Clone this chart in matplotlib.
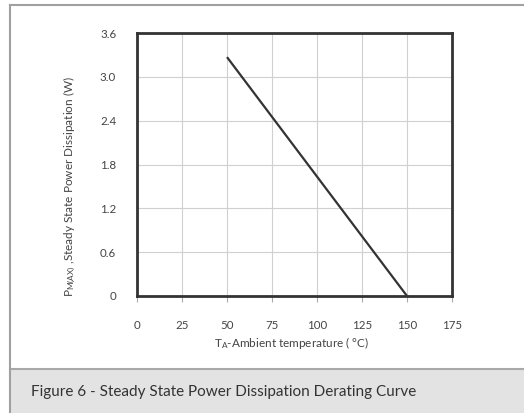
import matplotlib
matplotlib.use("Agg")
import matplotlib.pyplot as plt
from matplotlib.patches import Rectangle
from matplotlib.lines import Line2D

# Data
temperature = [50, 150]
power = [3.27, 0.0]
x_ticks = [0, 25, 50, 75, 100, 125, 150, 175]
y_ticks = [0, 0.6, 1.2, 1.8, 2.4, 3.0, 3.6]
y_tick_labels = ["0", "0.6", "1.2", "1.8", "2.4", "3.0", "3.6"]
caption = "Figure 6 - Steady State Power Dissipation Derating Curve"
xlabel = r"T$_{A}$-Ambient temperature ( °C)"
ylabel = r"P$_{M(AX)}$ ,Steady State Power Dissipation (W)"

plt.rcParams['font.family'] = ['Lato', 'DejaVu Sans']
plt.rcParams['mathtext.fontset'] = 'custom'
plt.rcParams['mathtext.rm'] = 'Lato'
plt.rcParams['mathtext.it'] = 'Lato'

W, H = 524, 413
fig = plt.figure(figsize=(W / 100, H / 100), dpi=100)
fig.patch.set_facecolor('white')

# caption band
fig.patches.append(Rectangle((10 / W, 0), 1 - 10 / W, (H - 369) / H,
                             transform=fig.transFigure, facecolor='#e3e3e3',
                             edgecolor='none', zorder=0))
fig.lines.append(Line2D([10 / W, 1], [(H - 369) / H] * 2, transform=fig.transFigure,
                        color='#a8a8a8', lw=1.5))
# outer frame
fig.lines.append(Line2D([10 / W, 1], [(H - 4.5) / H] * 2, transform=fig.transFigure,
                        color='#a0a0a0', lw=1.5))
fig.lines.append(Line2D([10 / W, 10 / W], [0, (H - 4.5) / H], transform=fig.transFigure,
                        color='#a0a0a0', lw=1.5))

left, right, top, bottom = 137, 452, 33, 296
ax = fig.add_axes([left / W, (H - bottom) / H, (right - left) / W, (bottom - top) / H])
ax.plot(temperature, power, color='#333333', lw=1.6, solid_capstyle='butt', zorder=3)
ax.set_xlim(0, 175)
ax.set_ylim(0, 3.6)
ax.set_xticks(x_ticks)
ax.set_yticks(y_ticks)
ax.set_yticklabels(y_tick_labels)
ax.grid(True, color='#d0d0d0', lw=0.8)
ax.set_axisbelow(True)
for s in ax.spines.values():
    s.set_linewidth(2)
    s.set_color('#333333')
ax.tick_params(axis='x', length=4, width=0.8, color='#aaaaaa', labelsize=8.3,
               labelcolor='#444444', pad=13)
ax.tick_params(axis='y', length=0, labelsize=8.3, labelcolor='#444444', pad=15)

fig.text(292 / W, 1 - 343 / H, xlabel, ha='center', va='center', fontsize=8.5, color='#444444')
fig.text(70 / W, 1 - 187 / H, ylabel, ha='center', va='center', rotation=90,
         fontsize=8.5, color='#444444')
fig.text(31 / W, 1 - 392 / H, caption, ha='left', va='center', fontsize=11, color='#333333')

fig.savefig('out.png', dpi=100)
